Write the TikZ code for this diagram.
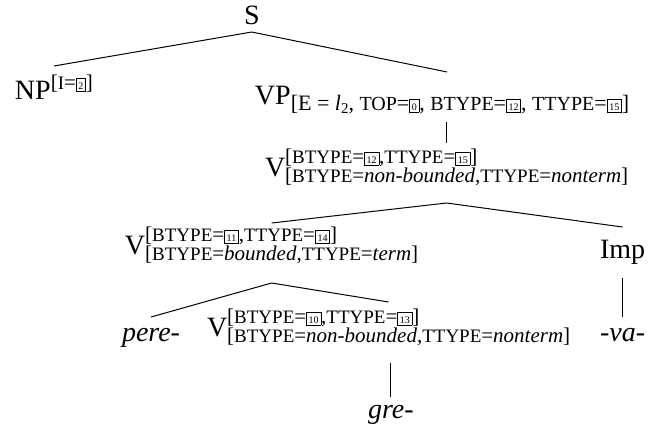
\documentclass[tikz,border=0pt]{standalone}
\usepackage{fontspec}
\setmainfont{Liberation Serif}
\usetikzlibrary{calc}
\newcommand\ssz{\fontsize{10.5}{12}\selectfont}
\newcommand\capf[1]{{\fontsize{9.5}{11}\selectfont #1}}
\newcommand\bx[1]{{\fboxsep=0.9pt\fboxrule=0.35pt\fbox{\fontsize{5}{5}\selectfont\rule{0pt}{4.3pt}#1}}}
\newcommand\supsub[2]{\raisebox{6.5pt}{\rlap{\ssz #1}}\raisebox{-3pt}{\ssz #2}}
\newcommand\supon[1]{\raisebox{5pt}{\ssz #1}}
\newcommand\subon[1]{\raisebox{-3pt}{\fontsize{11}{12}\selectfont #1}}
\begin{document}
\begin{tikzpicture}[x=0.5pt,y=-0.5pt,
  lab/.style={anchor=base west, inner sep=0pt, outer sep=0pt, font=\fontsize{14}{16}\selectfont},
  edge/.style={line width=0.5pt}]
\useasboundingbox (0,0) rectangle (655,434);
\node[lab] (S) at (244,24) {S};
\node[lab] (NP) at (15,99) {NP\supon{[\capf{I}=\bx{2}]}};
\node[lab] (VP) at (255,104) {VP\subon{[E = \textit{l}\raisebox{-1.5pt}{\fontsize{7.5}{7.5}\selectfont 2}, {\fontsize{10}{11}\selectfont TOP}=\bx{0}, {\fontsize{10}{11}\selectfont BTYPE}=\bx{12}, {\fontsize{10}{11}\selectfont TTYPE}=\bx{15}]}};
\node[lab] (V2) at (265,176) {V\supsub{[\capf{BTYPE}=\bx{12},\capf{TTYPE}=\bx{15}]}{[\capf{BTYPE}=\textit{non-bounded},\capf{TTYPE}=\textit{nonterm}]}};
\node[lab] (V3) at (125,254) {V\supsub{[\capf{BTYPE}=\bx{11},\capf{TTYPE}=\bx{14}]}{[\capf{BTYPE}=\textit{bounded},\capf{TTYPE}=\textit{term}]}};
\node[lab] (Imp) at (600,258) {Imp};
\node[lab] (pere) at (122,341) {\textit{pere-}};
\node[lab] (V4) at (207,336) {V\supsub{[\capf{BTYPE}=\bx{10},\capf{TTYPE}=\bx{13}]}{[\capf{BTYPE}=\textit{non-bounded},\capf{TTYPE}=\textit{nonterm}]}};
\node[lab] (va) at (600,341) {\textit{-va-}};
\node[lab] (gre) at (368,418) {\textit{gre-}};
\draw[edge] ($(S.base)+(0,8)$) -- ($(NP.base)+(0,-33)$);
\draw[edge] ($(S.base)+(0,8)$) -- ($(VP.base)+(5,-32)$);
\draw[edge] ($(V2.base)+(0,-33)$) -- ($(V2.base)+(0,-54)$);
\draw[edge] ($(V2.base)+(0,27)$) -- ($(V3.base)+(0,-31)$);
\draw[edge] ($(V2.base)+(0,27)$) -- ($(Imp.base)+(0,-31)$);
\draw[edge] ($(V3.base)+(0,29)$) -- ($(pere.base)+(0,-24)$);
\draw[edge] ($(V3.base)+(0,29)$) -- ($(V4.base)+(0,-34)$);
\draw[edge] ($(va.base |- Imp.base)+(0,20)$) -- ($(va.base)+(0,-24)$);
\draw[edge] ($(gre.base |- V4.base)+(0,27)$) -- ($(gre.base)+(0,-21)$);
\end{tikzpicture}
\end{document}
